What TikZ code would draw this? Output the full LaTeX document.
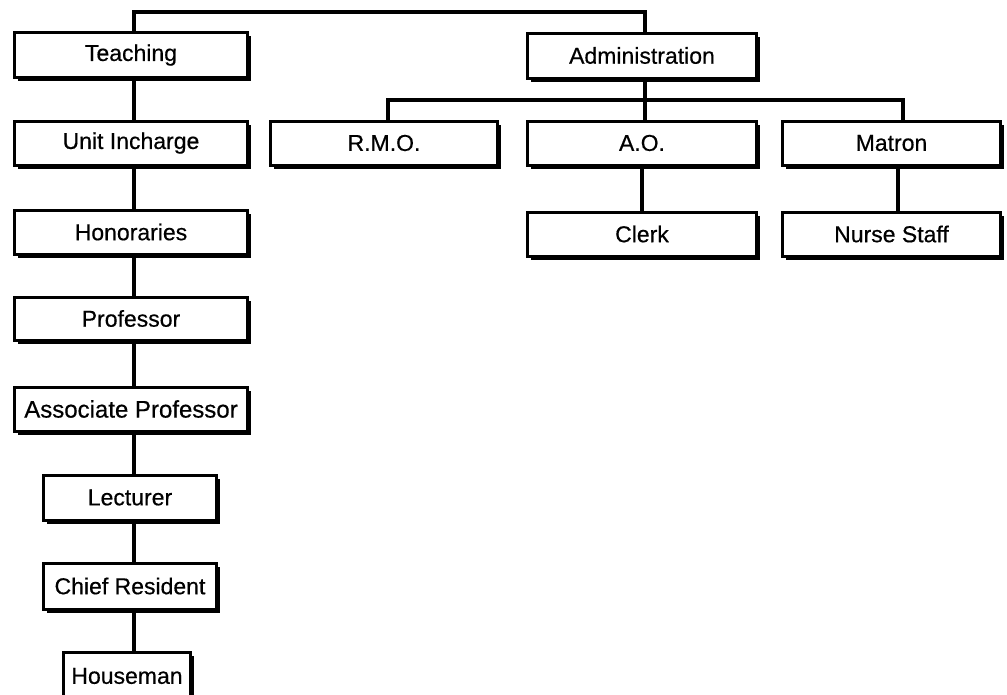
\documentclass[tikz,border=0pt]{standalone}
\usepackage{fontspec}
\setmainfont{Liberation Sans}
\newfontfamily\boxfont{Liberation Sans}[UprightFeatures={FakeBold=0.5}]
\usetikzlibrary{shadows}
\begin{document}
\begin{tikzpicture}[x=1pt,y=-1pt,
  box/.style={draw=black,line width=3pt,fill=white,inner sep=0pt,
    font=\boxfont\fontsize{23}{27}\selectfont,
    drop shadow={shadow xshift=3.5pt,shadow yshift=-3.5pt,opacity=1,fill=black}},
  link/.style={draw=black,line width=3.2pt}]
\useasboundingbox (0,0) rectangle (1007,694);
\clip (0,0) rectangle (1007,694);
% boxes: name, centre x, centre y, width, height, label
\newcommand{\orgbox}[6]{%
  \node[box,minimum width=#4pt,minimum height=#5pt] (#1) at (#2,#3) {#6};}
\orgbox{teach}{131}{55}{233}{45}{Teaching}
\orgbox{unit}{131}{143}{233}{44}{Unit Incharge}
\orgbox{hon}{131}{232}{233}{44}{Honoraries}
\orgbox{prof}{131}{318.5}{233}{43}{Professor}
\node[box,minimum width=233pt,minimum height=44pt,
  font=\boxfont\fontsize{24}{28}\selectfont] (assoc) at (131,409) {Associate Professor};
\orgbox{lect}{130}{497.5}{173}{45}{Lecturer}
\orgbox{chief}{130}{586}{173}{46}{Chief Resident}
\orgbox{house}{127}{676}{127}{48}{Houseman}
\orgbox{admin}{642}{55.5}{229}{45}{Administration}
\orgbox{rmo}{384}{143}{227}{44}{R.M.O.}
\orgbox{ao}{642}{143}{229}{44}{A.O.}
\orgbox{matron}{891.5}{143}{218}{44}{Matron}
\orgbox{clerk}{642}{234}{229}{44}{Clerk}
\orgbox{nurse}{891.5}{234}{218}{44}{Nurse Staff}
% routing points
\coordinate (spine) at (134,12);
\coordinate (top) at (645,12);
\coordinate (busL) at (388,100);
\coordinate (busR) at (903,100);
\coordinate (aoL) at (642,100);
\coordinate (maL) at (898,100);
% top connector between the two branches
\draw[link] (teach.north -| spine) -- (spine) -- (top) -- (admin.north -| top);
% teaching chain
\draw[link] (teach.south -| spine) -- (unit.north -| spine);
\draw[link] (unit.south -| spine) -- (hon.north -| spine);
\draw[link] (hon.south -| spine) -- (prof.north -| spine);
\draw[link] (prof.south -| spine) -- (assoc.north -| spine);
\draw[link] (assoc.south -| spine) -- (lect.north -| spine);
\draw[link] (lect.south -| spine) -- (chief.north -| spine);
\draw[link] (chief.south -| spine) -- (house.north -| spine);
% administration branch
\draw[link] (admin.south -| top) -- (busL -| top);
\draw[link] (rmo.north -| busL) -- (busL) -- (busR) -- (matron.north -| busR);
\draw[link] (busL -| top) -- (ao.north -| top);
\draw[link] (ao.south -| aoL) -- (clerk.north -| aoL);
\draw[link] (matron.south -| maL) -- (nurse.north -| maL);
\end{tikzpicture}
\end{document}
